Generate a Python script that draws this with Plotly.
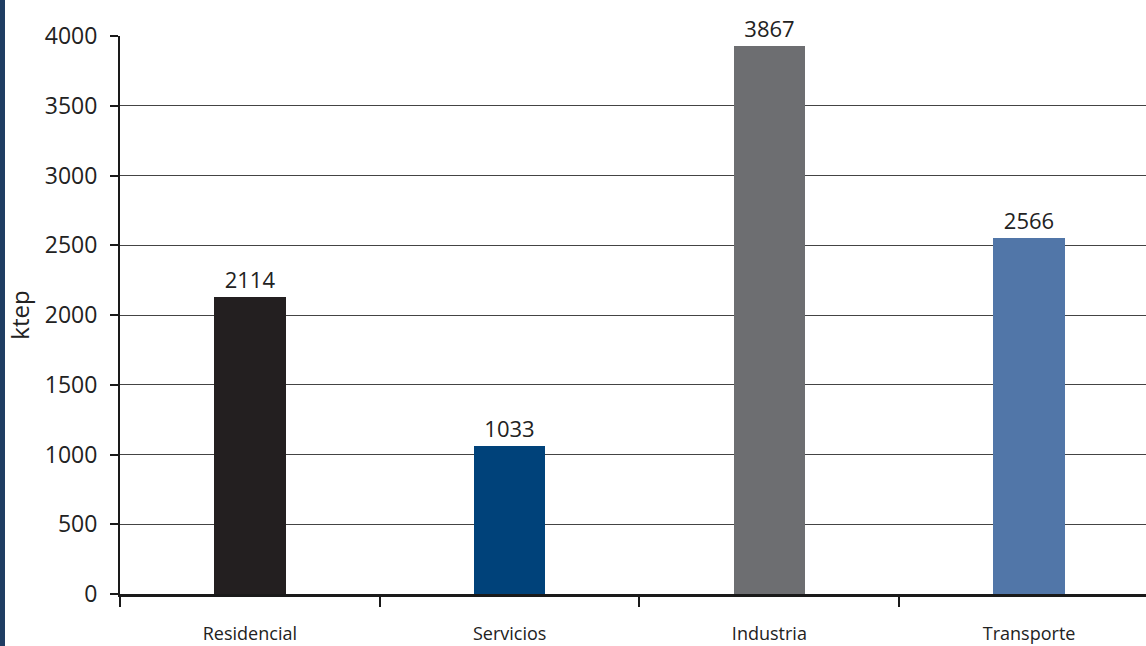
import plotly.graph_objects as go

categories = ["Residencial", "Servicios", "Industria", "Transporte"]
label_values = [2114, 1033, 3867, 2566]
bar_heights = [2128, 1061, 3928, 2552]
bar_colors = ["#231f20", "#00427a", "#6d6e71", "#5176a8"]
y_ticks = [0, 500, 1000, 1500, 2000, 2500, 3000, 3500, 4000]

W, H = 1146, 646
ml, mr, mt, mb = 120, 0, 36, 52
pw = W - ml - mr

fig = go.Figure()
fig.add_trace(go.Bar(
    x=categories, y=bar_heights,
    marker=dict(color=bar_colors, line=dict(width=0)),
    width=0.275,
    text=[str(v) for v in label_values],
    textposition="outside",
    textfont=dict(family="Open Sans", size=22, color="#222222"),
    cliponaxis=False,
    hoverinfo="skip",
))

fig.update_layout(
    width=W, height=H,
    margin=dict(l=ml, r=mr, t=mt, b=mb),
    paper_bgcolor="white", plot_bgcolor="white",
    showlegend=False,
    bargap=0,
    font=dict(family="Open Sans", color="#222222"),
    shapes=[dict(type="rect", xref="paper", yref="paper",
                 x0=-ml / pw, x1=-(ml - 5) / pw, y0=-mb / (H - mt - mb), y1=1 + mt / (H - mt - mb),
                 fillcolor="#1f3d63", line=dict(width=0), layer="above")],
)

fig.update_xaxes(
    type="category",
    range=[-0.5, 3.45],
    showline=True, linecolor="#1a1a1a", linewidth=3,
    ticks="outside", tickson="boundaries", ticklen=10, tickwidth=2, tickcolor="#1a1a1a",
    tickfont=dict(family="Open Sans", size=18, color="#222222"),
    ticklabelstandoff=21,
    showgrid=False, zeroline=False,
)

fig.update_yaxes(
    range=[0, 4000],
    tickvals=y_ticks,
    showline=True, linecolor="#1a1a1a", linewidth=2,
    ticks="outside", ticklen=8, tickwidth=2, tickcolor="#1a1a1a",
    tickfont=dict(family="Open Sans", size=23, color="#222222"),
    ticklabelstandoff=8,
    showgrid=True, gridcolor="#444444", gridwidth=1,
    zeroline=False,
    title=dict(text="ktep", font=dict(family="Open Sans", size=24, color="#222222"), standoff=8),
)

fig.write_html("out.html")
